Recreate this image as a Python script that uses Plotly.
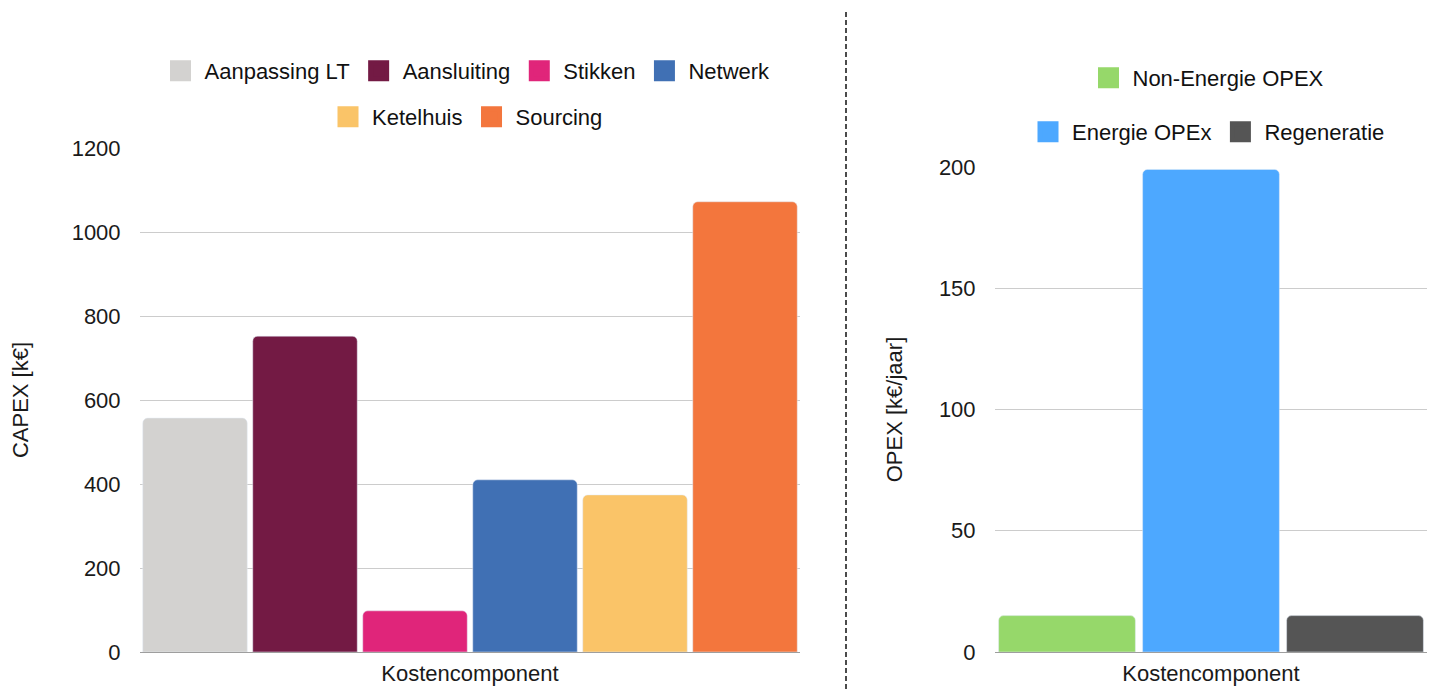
import plotly.graph_objects as go

# ---- data ----
capex_names = ["Aanpassing LT", "Aansluiting", "Stikken", "Netwerk", "Ketelhuis", "Sourcing"]
capex_values = [557, 752, 98, 410, 374, 1072]
capex_colors = ["#D3D2D0", "#731A44", "#E0257A", "#4070B4", "#FAC468", "#F3763D"]
capex_legend = ["legend", "legend", "legend", "legend", "legend2", "legend2"]

opex_names = ["Non-Energie OPEX", "Energie OPEx", "Regeneratie"]
opex_values = [15, 199, 15]
opex_colors = ["#96D86A", "#4DA8FF", "#555555"]
opex_legend = ["legend3", "legend4", "legend4"]

category = ["Kostencomponent"]
capex_ticks = [0, 200, 400, 600, 800, 1000, 1200]
opex_ticks = [0, 50, 100, 150, 200]

FONT = "Liberation Sans, Arial, sans-serif"
FS = 22

fig = go.Figure()

for name, val, col, lg in zip(capex_names, capex_values, capex_colors, capex_legend):
    fig.add_trace(go.Bar(x=category, y=[val], name=name, marker_color=col,
                         xaxis="x", yaxis="y", showlegend=False, hoverinfo="name+y"))
    fig.add_trace(go.Scatter(x=[None], y=[None], mode="markers", name=name,
                             marker=dict(symbol="square", size=16, color=col,
                                         line=dict(color=col, width=5)),
                             xaxis="x", yaxis="y", legend=lg, showlegend=True))

for name, val, col, lg in zip(opex_names, opex_values, opex_colors, opex_legend):
    fig.add_trace(go.Bar(x=category, y=[val], name=name, marker_color=col,
                         xaxis="x2", yaxis="y2", showlegend=False, hoverinfo="name+y"))
    fig.add_trace(go.Scatter(x=[None], y=[None], mode="markers", name=name,
                             marker=dict(symbol="square", size=16, color=col,
                                         line=dict(color=col, width=5)),
                             xaxis="x2", yaxis="y2", legend=lg, showlegend=True))

W, H = 1435, 689
ml, mr, mt, mb = 140, 8, 10, 37
pw = W - ml - mr
ph = H - mt - mb

def px_x(p):
    return (p - ml) / pw

def px_y(p):
    return (H - mb - p) / ph

def cx(p):
    return p / W

def cy(p):
    return 1 - p / H

legend_common = dict(orientation="h", xanchor="center", yanchor="middle",
                     xref="container", yref="container", itemwidth=38,
                     font=dict(family=FONT, size=FS, color="#111111"),
                     bgcolor="rgba(0,0,0,0)", itemclick=False, itemdoubleclick=False)

axis_font = dict(family=FONT, size=FS, color="#1A1A1A")

fig.update_layout(
    width=W, height=H,
    margin=dict(l=ml, r=mr, t=mt, b=mb, autoexpand=False),
    paper_bgcolor="white", plot_bgcolor="white",
    font=dict(family=FONT, size=FS, color="#1A1A1A"),
    barmode="group", bargap=0, bargroupgap=0.05, barcornerradius=5,
    xaxis=dict(domain=[0, px_x(800)], showticklabels=False, showgrid=False,
               showline=True, linecolor="#9E9E9E", linewidth=1, ticks="",
               title=dict(text="Kostencomponent", font=axis_font, standoff=13),
               automargin=False, fixedrange=True),
    yaxis=dict(domain=[0, px_y(148)], range=[0, 1200], tickvals=capex_ticks,
               showgrid=True, gridcolor="#CCCCCC", gridwidth=1, zeroline=False,
               showline=False, ticks="outside", ticklen=14, tickcolor="rgba(0,0,0,0)",
               tickfont=axis_font,
               title=dict(text="CAPEX [k€]", font=axis_font, standoff=36),
               automargin=False, fixedrange=True),
    xaxis2=dict(domain=[px_x(995), 1], anchor="y2", showticklabels=False, showgrid=False,
                showline=True, linecolor="#9E9E9E", linewidth=1, ticks="",
                title=dict(text="Kostencomponent", font=axis_font, standoff=13),
                automargin=False, fixedrange=True),
    yaxis2=dict(domain=[0, px_y(167)], anchor="x2", range=[0, 200],
                tickvals=opex_ticks,
                showgrid=True, gridcolor="#CCCCCC", gridwidth=1, zeroline=False,
                showline=False, ticks="outside", ticklen=14, tickcolor="rgba(0,0,0,0)",
                tickfont=axis_font,
                title=dict(text="OPEX [k€/jaar]", font=axis_font, standoff=30),
                automargin=False, fixedrange=True),
    legend=dict(x=cx(466), y=cy(71), **legend_common),
    legend2=dict(x=cx(466), y=cy(117), **legend_common),
    legend3=dict(x=cx(1207), y=cy(78), **legend_common),
    legend4=dict(x=cx(1207), y=cy(132), **legend_common),
    shapes=[dict(type="line", xref="paper", yref="paper",
                 x0=px_x(846), x1=px_x(846), y0=px_y(H), y1=px_y(10),
                 line=dict(color="#111111", width=1.5, dash="5px,3px"))],
)

fig.write_html("out.html")
